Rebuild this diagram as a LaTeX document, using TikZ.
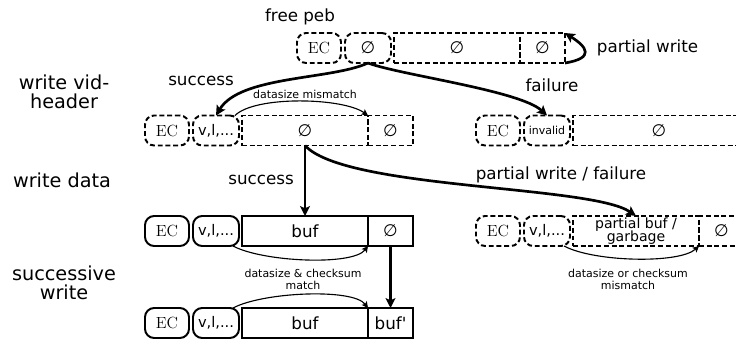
\documentclass[tikz,border=0pt]{standalone}
\usepackage{fontspec}
\setsansfont{DejaVu Sans}
\renewcommand{\familydefault}{\sfdefault}
\usetikzlibrary{arrows.meta, positioning}
\newcommand{\tightlines}{\lineskiplimit=-5pt\relax}

\begin{document}
\begin{tikzpicture}[x=0.25mm, y=-0.25mm,
  cell/.style={minimum height=7.5mm, inner sep=0pt, outer sep=0pt, line width=1.4pt},
  freecell/.style={cell, draw, dash pattern=on 3.5pt off 2pt},
  usedcell/.style={cell, draw},
  rnd/.style={rounded corners=6.5pt},
  ecw/.style={rnd, minimum width=11mm, font=\rmfamily\fontsize{11.5}{13}\selectfont},
  vidw/.style={rnd, minimum width=11.5mm, font=\fontsize{10.4}{12}\selectfont},
  dataw/.style={minimum width=31.5mm, font=\fontsize{11.9}{13}\selectfont},
  tailw/.style={minimum width=11.25mm, font=\fontsize{11.9}{13}\selectfont},
  bigarrow/.style={-{Stealth[length=7pt, width=7pt, inset=1.5pt]}, line width=1.9pt},
  thinarrow/.style={-{Stealth[length=4.5pt, width=4.5pt, inset=1pt]}, line width=0.8pt},
  rowlabel/.style={align=center, font={\fontsize{13.7}{13.5}\selectfont\tightlines}},
  edgelabel/.style={font=\fontsize{11.9}{13}\selectfont},
  note/.style={align=center, font=\fontsize{7.8}{8.6}\selectfont},
]
  \useasboundingbox (0,0) rectangle (736,343);
  \clip (0,0) rectangle (736,343);

  %--- row labels ---
  \node[rowlabel] (lblvid)  at (64,92)  {write vid-\\header};
  \node[rowlabel] (lbldata) at (62,180) {write data};
  \node[rowlabel] (lblsucc) at (64,283) {successive\\write};

  %--- free peb ---
  \node[edgelabel] (lblfree) at (300,17) {free peb};
  \node[freecell, ecw] (ec1) at (319,48) {EC};
  \node[freecell, vidw, right=1mm of ec1, font=\fontsize{11.9}{13}\selectfont] (vid1) {∅};
  \node[freecell, dataw, right=0.75mm of vid1] (data1) {∅};
  \node[freecell, tailw, right=0pt of data1] (tail1) {∅};
  \draw[bigarrow] (tail1.south east) .. controls +(30,-5) and +(22,14) .. (tail1.north east);
  \node[edgelabel, anchor=west] (lblpw) at (592,48) {partial write};

  %--- vid header written ---
  \node[freecell, ecw] (ec2) at (167,130.5) {EC};
  \node[freecell, vidw, right=1mm of ec2] (vid2) {v,l,...};
  \node[freecell, dataw, right=0.75mm of vid2] (data2) {∅};
  \node[freecell, tailw, right=0pt of data2] (tail2) {∅};
  \draw[thinarrow] ([xshift=-1mm]vid2.north east) .. controls +(20,-20) and +(-25,-18) .. (tail2.north west);
  \node[note] (lblmis) at (305,94) {datasize mismatch};

  %--- vid header failed ---
  \node[freecell, ecw] (ec2r) at (498,130.5) {EC};
  \node[freecell, vidw, right=1mm of ec2r, font=\fontsize{7.8}{9}\selectfont] (vid2r) {invalid};
  \node[freecell, dataw, right=0.75mm of vid2r, minimum width=43mm] (data2r) {∅};

  \draw[bigarrow] (vid1.south) .. controls +(-37,17) and +(24,-40) .. (vid2.north);
  \draw[bigarrow] (vid1.south) .. controls +(32,12) and +(-27,-25) .. (vid2r.north);
  \node[edgelabel] (lblok1) at (201,81) {success};
  \node[edgelabel] (lblfail) at (552,85) {failure};

  %--- data written ---
  \node[usedcell, ecw] (ec3) at (167,231) {EC};
  \node[usedcell, vidw, right=1mm of ec3] (vid3) {v,l,...};
  \node[usedcell, dataw, right=0.75mm of vid3] (data3) {buf};
  \node[usedcell, tailw, right=0pt of data3] (tail3) {∅};
  \draw[thinarrow] ([xshift=-1.5mm]vid3.south east) .. controls +(30,16) and +(-15,20) .. (tail3.south west);
  \node[note] (lblmatch) at (303,279) {datasize \& checksum\\match};

  %--- data write failed ---
  \node[freecell, ecw] (ec3r) at (498,231) {EC};
  \node[freecell, vidw, right=1mm of ec3r] (vid3r) {v,l,...};
  \node[freecell, dataw, right=0.75mm of vid3r, align=center,
        font={\fontsize{10}{9}\selectfont\tightlines}] (data3r) {partial buf /\\garbage};
  \node[freecell, tailw, right=0pt of data3r] (tail3r) {∅};
  \draw[thinarrow] ([xshift=-1.5mm]vid3r.south east) .. controls +(30,16) and +(-20,18) .. (data3r.south east);
  \node[note] (lblbad) at (628,279) {datasize or checksum\\mismatch};

  \draw[bigarrow] (data2.south) -- (data3.north);
  \draw[bigarrow] (data2.south) .. controls +(40,44) and +(-45,-31) .. (data3r.north);
  \node[edgelabel] (lblok2) at (261,180) {success};
  \node[edgelabel] (lblpwf) at (561,175) {partial write / failure};

  %--- successive write ---
  \node[usedcell, ecw] (ec4) at (167,323) {EC};
  \node[usedcell, vidw, right=1mm of ec4] (vid4) {v,l,...};
  \node[usedcell, dataw, right=0.75mm of vid4] (data4) {buf};
  \node[usedcell, tailw, right=0pt of data4] (tail4) {buf\textquotesingle};
  \draw[bigarrow] (tail3.south) -- (tail4.north);
  \draw[thinarrow] ([xshift=-1.5mm]vid4.north east) .. controls +(30,-16) and +(-15,-20) .. (tail4.north west);
\end{tikzpicture}
\end{document}
